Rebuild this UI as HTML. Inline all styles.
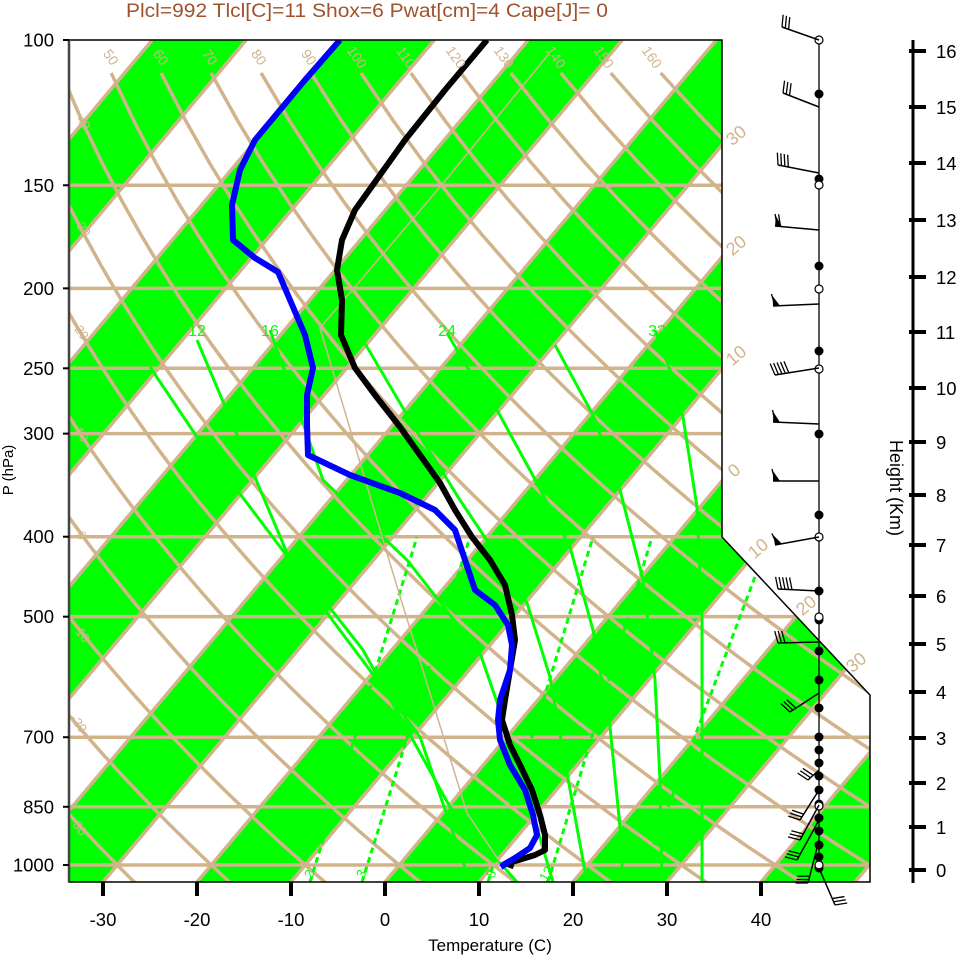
<!DOCTYPE html>
<html><head><meta charset="utf-8">
<style>
html,body{margin:0;padding:0;background:#fff;}
svg{display:block;font-family:"Liberation Sans",sans-serif;}
</style></head>
<body>
<svg id="s" width="961" height="957" viewBox="0 0 961 957" xmlns="http://www.w3.org/2000/svg">
<defs>
<clipPath id="c"><polygon points="69,40 722,40 722,537 870,695 870,882 69,882"/></clipPath>
</defs>
<rect width="961" height="957" fill="#fff"/>
<g id="plot" clip-path="url(#c)"></g>
<g id="over"></g>
</svg>
<script>
(function(){
var NS="http://www.w3.org/2000/svg";
var plot=document.getElementById('plot'), over=document.getElementById('over');
function el(tag,attrs,parent,text){var e=document.createElementNS(NS,tag);for(var k in attrs)e.setAttribute(k,attrs[k]);if(text!==undefined)e.textContent=text;(parent||plot).appendChild(e);return e;}
function Y(p){return 40+358.3*Math.log(p/100);}
function X(T,y){return 385+9.4*T+0.84*(882-y);}
var TAN="#D2B48C",GRN="#00FF00";
for(var T=-140;T<=60;T+=20){
  var pts=[[X(T,882),882],[X(T+10,882),882],[X(T+10,40),40],[X(T,40),40]];
  el('polygon',{points:pts.map(function(a){return a.join(',')}).join(' '),fill:GRN});
}
for(var T=-140;T<=70;T+=10){
  el('line',{x1:X(T,882),y1:882,x2:X(T,40),y2:40,stroke:TAN,'stroke-width':3.5});
}
[150,200,250,300,400,500,700,850,1000].forEach(function(p){var y=Y(p);el('line',{x1:60,y1:y,x2:880,y2:y,stroke:TAN,'stroke-width':3.5});});
for(var th=-30;th<=160;th+=10){
  var d="";var p0=100*Math.exp(33/358.3);
  for(var i=0;i<=60;i++){var p=p0+(1050-p0)*i/60;var Tk=(th+273.15)*Math.pow(p/1000,0.286)-273.15;var y=Y(p);d+=(i?"L":"M")+X(Tk,y).toFixed(1)+","+y.toFixed(1);}
  el('path',{d:d,fill:'none',stroke:TAN,'stroke-width':3.5});
}
[[310,417],[362,470],[488,593],[548,652],[640,770]].forEach(function(a){
  el('line',{x1:a[0],y1:882,x2:a[1],y2:537,stroke:GRN,'stroke-width':3,'stroke-dasharray':'6 4'});
});
var moist=[
 [[150,367],[197,437],[290,560],[330,617],[420,737],[470,882]],
 [[197,340],[287,553],[363,650],[450,807],[517,882]],
 [[270,330],[323,480],[407,560],[480,653],[517,760],[553,882]],
 [[360,335],[410,420],[460,500],[500,560],[527,603],[550,677],[567,773],[587,882]],
 [[447,333],[467,367],[497,410],[537,483],[570,547],[593,630],[610,727],[620,827],[623,882]],
 [[555,345],[593,415],[620,490],[643,580],[655,680],[660,780],[662,882]],
 [[655,330],[670,370],[683,417],[697,507],[702,617],[702,882]]
];
moist.forEach(function(l){el('polyline',{points:l.map(function(a){return a.join(',')}).join(' '),fill:'none',stroke:GRN,'stroke-width':3});});
el('polyline',{points:"548,55 440,187 320,328 395,580 467,813 500,862",fill:'none',stroke:TAN,'stroke-width':1.5});
var blue="340,40 305,80 255,140 240,170 232,205 233,240 255,258 278,272 290,300 305,335 313,368 307,395 307,425 308,455 350,475 400,493 435,510 455,530 465,560 475,590 495,605 508,625 512,645 510,670 500,700 498,720 500,740 510,765 525,790 533,815 537,835 530,848 515,858 503,865 505,868";
var black="487,40 445,90 405,140 380,175 355,210 342,240 337,270 342,300 341,335 355,368 375,395 400,427 420,455 440,483 455,510 472,537 490,560 505,585 512,615 515,640 510,670 505,700 502,720 510,745 520,765 532,790 540,815 545,835 545,850 535,855 512,862 510,868";
el('polyline',{points:black,fill:'none',stroke:'#000','stroke-width':6,'stroke-linejoin':'round'});
el('polyline',{points:blue,fill:'none',stroke:'#0000FF','stroke-width':6,'stroke-linejoin':'round'});
el('polygon',{points:"69,40 722,40 722,537 870,695 870,882 69,882",fill:'none',stroke:'#000','stroke-width':1.5},over);
el('line',{x1:69,y1:40,x2:69,y2:882,stroke:'#444','stroke-width':2.5},over);
[100,150,200,250,300,400,500,700,850,1000].forEach(function(p){var y=Y(p);
 el('line',{x1:63,y1:y,x2:69,y2:y,stroke:'#000','stroke-width':2},over);
 el('text',{x:54,y:y+6.5,'text-anchor':'end','font-size':18.5,fill:'#000'},over,String(p));});
el('text',{x:13,y:470,'font-size':15,'text-anchor':'middle',transform:'rotate(-90 13 470)'},over,'P (hPa)');
for(var t=-30;t<=40;t+=10){var x=385+9.4*t;
 el('line',{x1:x,y1:882,x2:x,y2:896,stroke:'#000','stroke-width':4},over);
 el('text',{x:x,y:926,'text-anchor':'middle','font-size':18.5},over,String(t));}
el('text',{x:490,y:951,'text-anchor':'middle','font-size':17},over,'Temperature (C)');
el('text',{x:367,y:17,'text-anchor':'middle','font-size':19,fill:'#A0522D',textLength:482,lengthAdjust:'spacingAndGlyphs'},over,'Plcl=992 Tlcl[C]=11 Shox=6 Pwat[cm]=4 Cape[J]= 0');
function tl(x,y,txt,r,col,fs){el('text',{x:x,y:y,'font-size':fs||14,fill:col||TAN,'text-anchor':'middle',transform:'rotate('+r+' '+x+' '+y+')'},over,txt);}
var topx=[107,157,206,255,305,353,402,452,500,552,600,648];
for(var i=0;i<12;i++)tl(topx[i],60,String(50+i*10),55);
[[80,125,'40'],[80,232,'30'],[78,335,'20'],[78,437,'10'],[78,538,'0'],[78,636,'-10'],[75,726,'-20'],[75,829,'-30']].forEach(function(a){tl(a[0],a[1],a[2],55,TAN,13);});
[[740,140,'30'],[740,250,'20'],[740,360,'10'],[738,475,'0'],[762,553,'10'],[810,610,'20'],[860,667,'30']].forEach(function(a){tl(a[0],a[1],a[2],-40,TAN,18);});
[[197,336,'12'],[270,336,'16'],[447,336,'24'],[657,336,'32']].forEach(function(a){el('text',{x:a[0],y:a[1],'font-size':16,fill:GRN,'text-anchor':'middle'},over,a[2]);});
[[313,876,'2'],[365,876,'3'],[495,876,'8'],[550,876,'12']].forEach(function(a){tl(a[0],a[1],a[2],-60,GRN,13);});
el('line',{x1:819,y1:40,x2:819,y2:868,stroke:'#000','stroke-width':1.3},over);
[94,179,266,351,434,515,591,620,651,680,708,737,750,763,776,790,804,818,831,845,857,868].forEach(function(y){el('circle',{cx:819,cy:y,r:4.5,fill:'#000'},over);});
[40,185,289,369,537,617,806,865].forEach(function(y){el('circle',{cx:819,cy:y,r:4,fill:'#fff',stroke:'#000','stroke-width':1.2},over);});
function barb(x0,y0,x1,y1,n,flag){
 el('line',{x1:x0,y1:y0,x2:x1,y2:y1,stroke:'#000','stroke-width':1.5},over);
 var dx=x1-x0,dy=y1-y0,L=Math.sqrt(dx*dx+dy*dy),ux=dx/L,uy=dy/L;
 var px=-uy,py=ux; if(py>0){px=-px;py=-py;}
 var k=0;
 if(flag){el('polygon',{points:x1+','+y1+' '+(x1-ux*7)+','+(y1-uy*7)+' '+(x1+px*10)+','+(y1+py*10),fill:'#000'},over);k=2;}
 for(var i=0;i<n;i++){var bx=x1-ux*(k+i*3.5),by=y1-uy*(k+i*3.5);
  el('line',{x1:bx,y1:by,x2:bx+px*12+ux*3,y2:by+py*12+uy*3,stroke:'#000','stroke-width':1.3},over);}
}
barb(819,40,782,27,3);barb(819,107,783,93,3);barb(819,173,778,165,4);
barb(819,230,775,226,2,1);barb(819,304,773,306,1,1);barb(819,368,775,375,5);
barb(819,424,773,422,1,1);barb(819,481,773,481,1,1);barb(819,537,775,545,1,1);
barb(819,591,778,589,5);barb(819,642,778,643,3);barb(819,693,790,712,3);
barb(819,770,808,780,3);barb(819,790,800,820,3);barb(819,805,800,840,3);barb(819,820,797,860,3);barb(819,840,808,883,3);
barb(819,868,835,905,3);
el('line',{x1:913,y1:40,x2:913,y2:883,stroke:'#000','stroke-width':3},over);
var hy=[870,827,783,738,692,644,596,545,495,442,388,332,277,220,163,107,51];
for(var h=0;h<=16;h++){el('line',{x1:909,y1:hy[h],x2:926,y2:hy[h],stroke:'#000','stroke-width':4},over);
 el('text',{x:936,y:hy[h]+7,'font-size':18.5},over,String(h));}
el('text',{x:890,y:488,'font-size':18,'text-anchor':'middle',transform:'rotate(90 890 488)'},over,'Height (Km)');
})();
</script>
</body></html>
